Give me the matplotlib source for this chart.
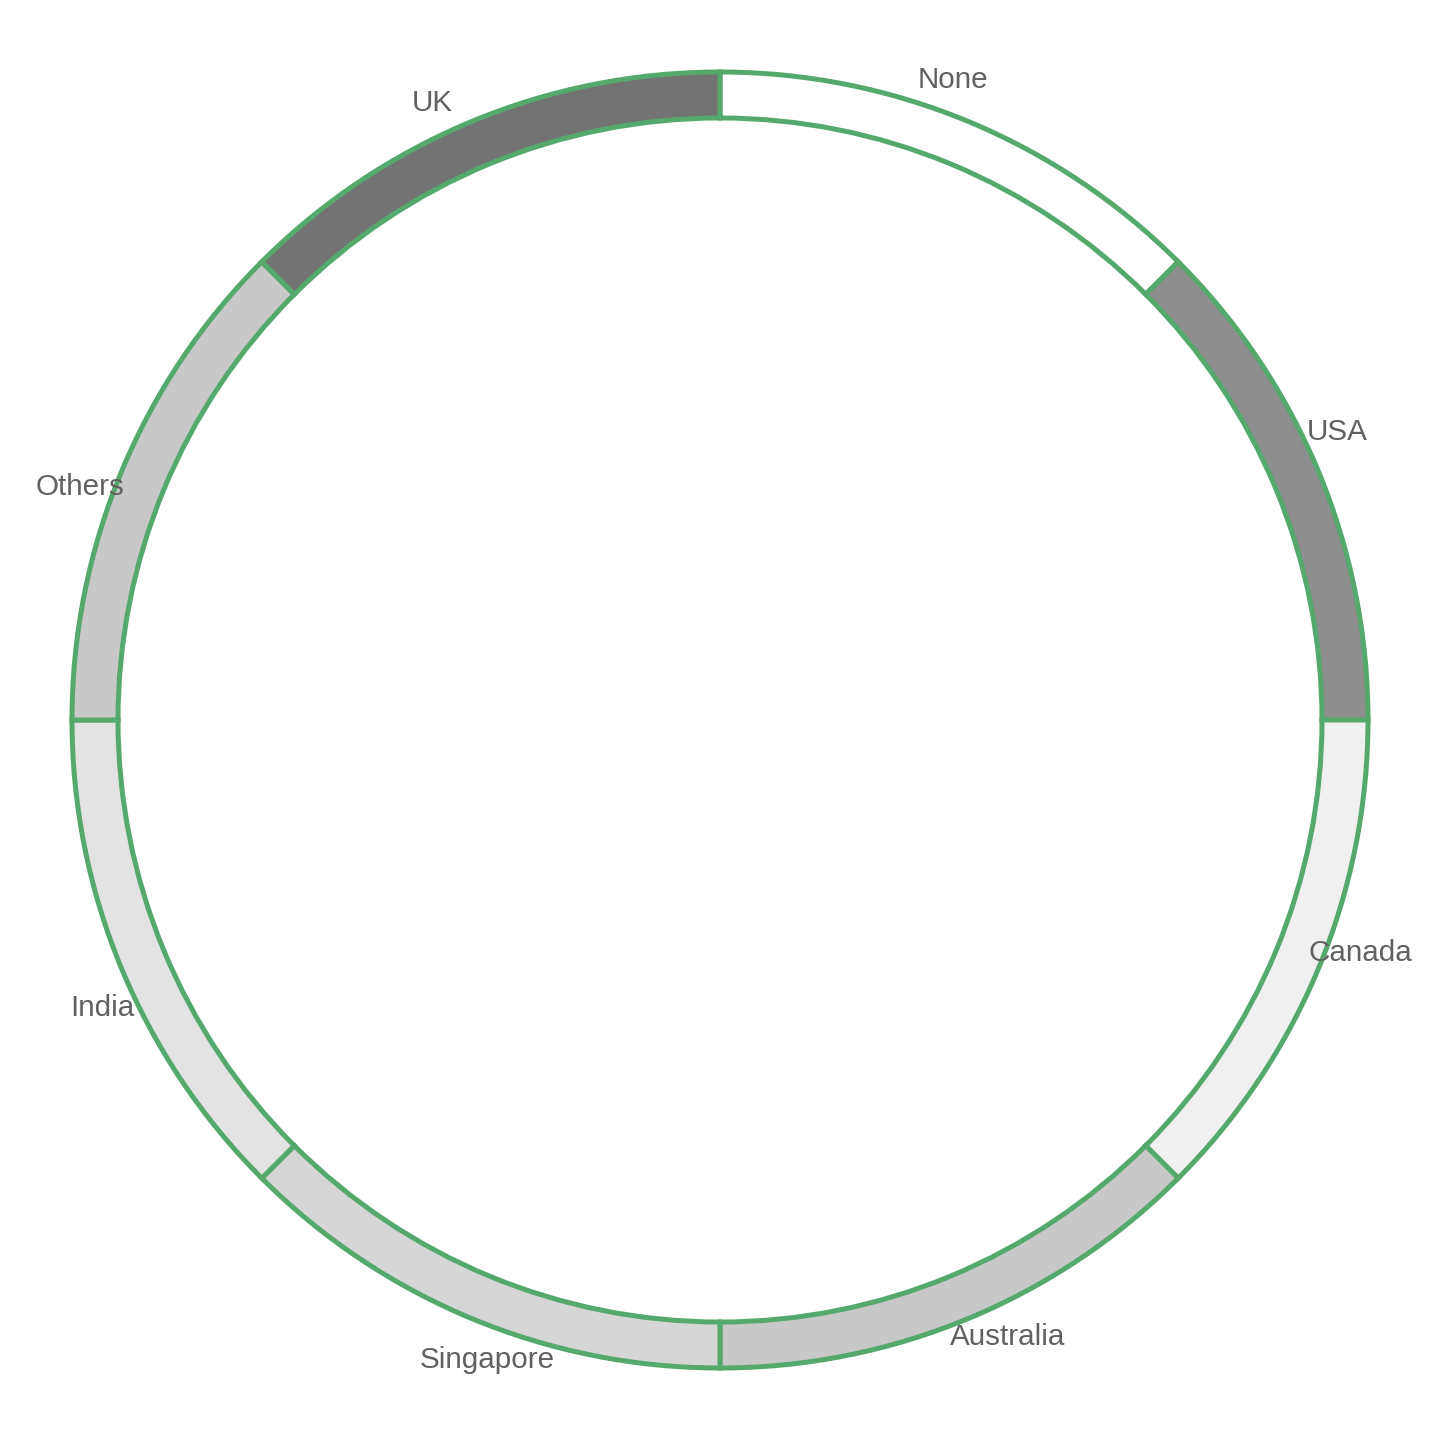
import numpy as np
import matplotlib
matplotlib.use("Agg")
import matplotlib.pyplot as plt

categories = ["None", "USA", "Canada", "Australia", "Singapore", "India", "Others", "UK"]
values = [1, 1, 1, 1, 1, 1, 1, 1]
colors = ["#ffffff", "#8e8e8e", "#f0f0f0", "#c8c8c8", "#d6d6d6", "#e3e3e3", "#c8c8c8", "#737373"]

fig = plt.figure(figsize=(14.4, 14.4), dpi=100)
ax = fig.add_axes([0, 0, 1, 1])
ax.set_xlim(-720, 720)
ax.set_ylim(-720, 720)
ax.set_aspect("equal")
ax.axis("off")

wedges, _ = ax.pie(values, colors=colors, radius=648, startangle=90, counterclock=False,
                   wedgeprops=dict(width=46, edgecolor="#55a96c", linewidth=3.6),
                   center=(0, 0), frame=False)
ax.set_xlim(-720, 720)
ax.set_ylim(-720, 720)

for w, lab in zip(wedges, categories):
    mid = (w.theta1 + w.theta2) / 2.0 + 2.5
    r = 681
    x = r * np.cos(np.deg2rad(mid))
    y = r * np.sin(np.deg2rad(mid))
    ax.text(x, y, lab, ha="center", va="center", fontsize=21.3,
            color="#616161", family="Liberation Sans", zorder=5)

fig.savefig("out.png", dpi=100)
